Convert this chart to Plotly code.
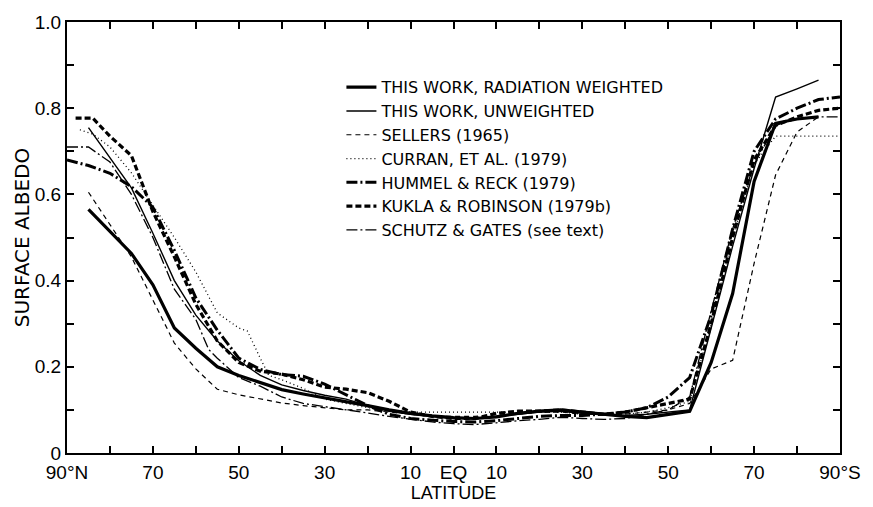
import plotly.graph_objects as go

# Zonal mean surface albedo versus latitude (north positive, south negative)

rad_lat = [85, 80, 75, 70, 65, 60, 55, 50, 45, 40, 35, 30, 25, 20, 15, 10, 5, 0,
           -5, -10, -15, -20, -25, -30, -35, -40, -45, -50, -55, -60, -65, -70, -75, -80, -85]
rad_alb = [0.565, 0.515, 0.463, 0.39, 0.29, 0.243, 0.20, 0.18, 0.163, 0.147, 0.137, 0.128,
           0.12, 0.11, 0.10, 0.092, 0.086, 0.082, 0.08, 0.084, 0.092, 0.097, 0.10, 0.095,
           0.09, 0.085, 0.082, 0.09, 0.097, 0.21, 0.37, 0.63, 0.765, 0.775, 0.78]

unw_lat = rad_lat
unw_alb = [0.755, 0.685, 0.615, 0.51, 0.40, 0.32, 0.26, 0.214, 0.18, 0.158, 0.145, 0.134,
           0.125, 0.11, 0.097, 0.09, 0.085, 0.08, 0.08, 0.085, 0.09, 0.095, 0.097, 0.092,
           0.09, 0.087, 0.09, 0.095, 0.10, 0.29, 0.48, 0.66, 0.826, 0.845, 0.865]

sel_lat = rad_lat
sel_alb = [0.605, 0.53, 0.455, 0.355, 0.255, 0.195, 0.148, 0.135, 0.125, 0.116, 0.11, 0.105,
           0.10, 0.10, 0.095, 0.09, 0.085, 0.085, 0.085, 0.09, 0.09, 0.095, 0.095, 0.09,
           0.09, 0.09, 0.095, 0.10, 0.115, 0.195, 0.215, 0.44, 0.645, 0.745, 0.78]

cur_lat = [87, 84, 80, 75, 70, 65, 60, 55, 50, 48, 45, 43, 40, 35, 30, 25, 20, 15, 10, 5, 0,
           -5, -10, -15, -20, -25, -30, -35, -40, -45, -50, -55, -60, -65, -70, -75, -80, -85, -90]
cur_alb = [0.75, 0.74, 0.71, 0.65, 0.575, 0.50, 0.42, 0.325, 0.29, 0.283, 0.22, 0.18, 0.17,
           0.15, 0.125, 0.115, 0.105, 0.10, 0.095, 0.095, 0.095, 0.095, 0.095, 0.095, 0.095,
           0.095, 0.09, 0.09, 0.09, 0.095, 0.105, 0.12, 0.30, 0.50, 0.67, 0.735, 0.735, 0.735, 0.735]

hum_lat = [90, 85, 80, 75, 70, 65, 60, 55, 50, 45, 40, 35, 30, 25, 20, 15, 10, 5, 0,
           -5, -10, -15, -20, -25, -30, -35, -40, -45, -50, -55, -60, -65, -70, -75, -80, -85, -90]
hum_alb = [0.68, 0.667, 0.649, 0.618, 0.57, 0.47, 0.36, 0.285, 0.22, 0.194, 0.182, 0.178,
           0.16, 0.135, 0.11, 0.09, 0.08, 0.076, 0.073, 0.072, 0.075, 0.08, 0.085, 0.087,
           0.087, 0.09, 0.095, 0.105, 0.13, 0.175, 0.32, 0.52, 0.70, 0.775, 0.80, 0.82, 0.826]

kuk_lat = [88, 84, 80, 75, 70, 65, 60, 55, 50, 45, 40, 35, 30, 25, 20, 15, 10, 5, 0,
           -5, -10, -15, -20, -25, -30, -35, -40, -45, -50, -55, -60, -65, -70, -75, -80, -85, -90]
kuk_alb = [0.777, 0.777, 0.735, 0.69, 0.56, 0.455, 0.345, 0.26, 0.21, 0.19, 0.183, 0.17,
           0.153, 0.148, 0.14, 0.12, 0.095, 0.085, 0.08, 0.08, 0.092, 0.097, 0.097, 0.10,
           0.095, 0.09, 0.095, 0.105, 0.115, 0.125, 0.30, 0.50, 0.68, 0.76, 0.78, 0.795, 0.80]

sch_lat = [90, 85, 80, 75, 70, 65, 60, 57, 55, 50, 45, 40, 35, 30, 25, 20, 15, 10, 5, 0,
           -5, -10, -15, -20, -25, -30, -35, -40, -45, -50, -55, -60, -65, -70, -75, -80, -85, -90]
sch_alb = [0.71, 0.71, 0.675, 0.60, 0.50, 0.38, 0.31, 0.24, 0.22, 0.175, 0.155, 0.13, 0.115,
           0.108, 0.10, 0.093, 0.085, 0.078, 0.072, 0.068, 0.066, 0.07, 0.075, 0.078, 0.083,
           0.08, 0.078, 0.08, 0.09, 0.10, 0.13, 0.33, 0.52, 0.67, 0.76, 0.775, 0.78, 0.78]

# Tick marks every 10 degrees / every 0.1 albedo; only some carry labels
x_tickvals = [90, 80, 70, 60, 50, 40, 30, 20, 10, 0, -10, -20, -30, -40, -50, -60, -70, -80, -90]
x_ticktext = ["90°N", "", "70", "", "50", "", "30", "", "10", "EQ", "10", "", "30", "", "50",
              "", "70", "", "90°S"]
y_tickvals = [0, 0.1, 0.2, 0.3, 0.4, 0.5, 0.6, 0.7, 0.8, 0.9, 1.0]
y_ticktext = ["0", "", "0.2", "", "0.4", "", "0.6", "", "0.8", "", "1.0"]

series = [
    ("THIS WORK, RADIATION WEIGHTED", rad_lat, rad_alb, 3.2, "solid"),
    ("THIS WORK, UNWEIGHTED", unw_lat, unw_alb, 1.4, "solid"),
    ("SELLERS (1965)", sel_lat, sel_alb, 1.2, "5px,4px"),
    ("CURRAN, ET AL. (1979)", cur_lat, cur_alb, 1.3, "1px,3px"),
    ("HUMMEL &amp; RECK (1979)", hum_lat, hum_alb, 3.0, "11px,3px,2px,3px"),
    ("KUKLA &amp; ROBINSON (1979b)", kuk_lat, kuk_alb, 3.2, "6px,3px"),
    ("SCHUTZ &amp; GATES (see text)", sch_lat, sch_alb, 1.3, "11px,3px,2px,3px"),
]

fig = go.Figure()
for name, lat, alb, width, dash in series:
    fig.add_trace(go.Scatter(
        x=lat, y=alb, mode="lines", name=name,
        line=dict(color="black", width=width, dash=dash),
    ))

font_family = "Liberation Sans, Arial, sans-serif"
wide_family = "DejaVu Sans, Liberation Sans, sans-serif"

fig.update_layout(
    width=873, height=507,
    margin=dict(l=67, r=25, t=15, b=51),
    paper_bgcolor="white", plot_bgcolor="white",
    font=dict(family=font_family, color="black"),
    showlegend=True,
    legend=dict(
        x=0.355, y=0.888, xanchor="left", yanchor="top",
        bgcolor="rgba(0,0,0,0)", borderwidth=0,
        font=dict(size=16, family=wide_family, color="black"),
        tracegroupgap=0,
    ),
    xaxis=dict(
        range=[90, -90],
        tickvals=x_tickvals, ticktext=x_ticktext,
        ticks="inside", ticklen=7, tickwidth=1.8, tickcolor="black",
        showline=True, linecolor="black", linewidth=2, mirror="ticks",
        showgrid=False, zeroline=False,
        tickfont=dict(size=19), ticklabelstandoff=1,
        title=dict(text="LATITUDE", font=dict(size=18), standoff=0),
    ),
    yaxis=dict(
        range=[0, 1.0],
        tickvals=y_tickvals, ticktext=y_ticktext,
        ticks="inside", ticklen=7, tickwidth=1.8, tickcolor="black",
        showline=True, linecolor="black", linewidth=2, mirror="ticks",
        showgrid=False, zeroline=False,
        tickfont=dict(size=19),
        title=dict(text="SURFACE ALBEDO", font=dict(size=20, family=wide_family), standoff=0),
    ),
)

fig.write_html("out.html")
